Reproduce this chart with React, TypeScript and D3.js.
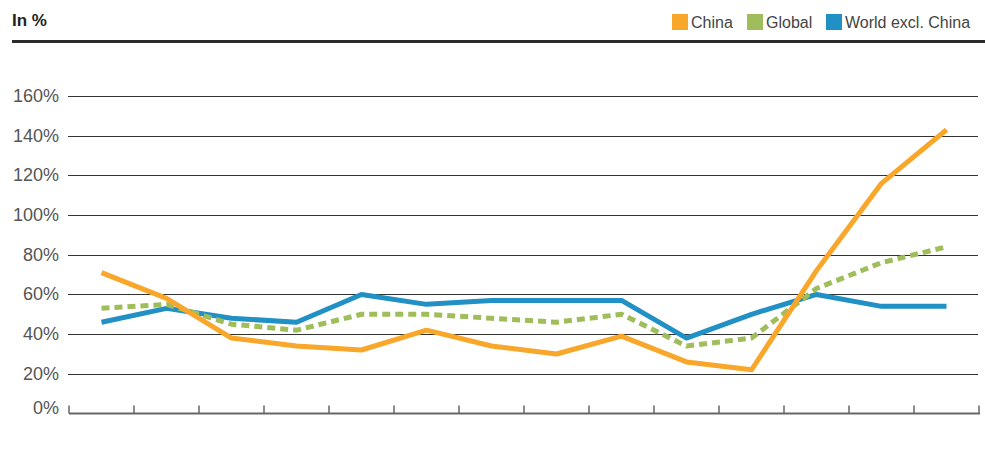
import React, { useRef, useEffect } from 'react';
import * as d3 from 'd3';

const years = ['1', '2', '3', '4', '5', '6', '7', '8', '9', '10', '11', '12', '13', '14'];
const china = [71, 58, 38, 34, 32, 42, 34, 30, 39, 26, 22, 72, 116, 143];
const global = [53, 55, 45, 42, 50, 50, 48, 46, 50, 34, 38, 63, 76, 84];
const worldExChina = [46, 53, 48, 46, 60, 55, 57, 57, 57, 38, 50, 60, 54, 54];
const yTicks = [0, 20, 40, 60, 80, 100, 120, 140, 160];

const legend = [
    { name: 'China', color: '#f9a72b' },
    { name: 'Global', color: '#9fbd5a' },
    { name: 'World excl. China', color: '#2190c4' },
];

const W = 985;
const H = 466;
const FONT = '"Liberation Sans", Arial, sans-serif';

export default function App() {
    const ref = useRef(null);

    useEffect(() => {
        if (!ref.current) return;
        const svg = d3.select(ref.current);
        svg.selectAll('*').remove();

        const x = d3.scaleBand().domain(years).range([69, 979]);
        const y = d3.scaleLinear().domain([0, 160]).range([413.5, 96]);

        /* header */
        svg.append('text')
            .attr('x', 12).attr('y', 26)
            .attr('font-family', FONT).attr('font-size', 17).attr('font-weight', 'bold')
            .attr('fill', '#222')
            .text('In %');
        svg.append('line')
            .attr('x1', 12).attr('x2', W).attr('y1', 41.5).attr('y2', 41.5)
            .attr('stroke', '#2b2b2b').attr('stroke-width', 3);

        /* legend */
        const lx = [672, 747, 826];
        legend.forEach((l, i) => {
            svg.append('rect')
                .attr('x', lx[i]).attr('y', 14).attr('width', 16).attr('height', 16)
                .attr('fill', l.color);
            svg.append('text')
                .attr('x', lx[i] + 19).attr('y', 28)
                .attr('font-family', FONT).attr('font-size', 16).attr('fill', '#444')
                .text(l.name);
        });

        /* grid + y labels */
        const grid = svg.append('g');
        yTicks.filter(t => t > 0).forEach(t => {
            grid.append('line')
                .attr('x1', 68).attr('x2', 978)
                .attr('y1', Math.round(y(t)) + 0.5).attr('y2', Math.round(y(t)) + 0.5)
                .attr('stroke', '#333').attr('stroke-width', 1);
        });
        yTicks.forEach(t => {
            grid.append('text')
                .attr('x', 59).attr('y', y(t) + (t === 0 ? 0 : 6))
                .attr('text-anchor', 'end')
                .attr('font-family', FONT).attr('font-size', 18).attr('fill', '#555')
                .text(t + '%');
        });

        /* x axis */
        const xAxis = svg.append('g').attr('transform', `translate(0, ${y(0)})`);
        xAxis.append('line')
            .attr('x1', 69).attr('x2', 980)
            .attr('stroke', '#666').attr('stroke-width', 2);
        const tickX = years.map(yr => x(yr) as number).concat([x.range()[1]]);
        tickX.forEach(tx => {
            xAxis.append('line')
                .attr('x1', tx).attr('x2', tx).attr('y1', 0).attr('y2', -8)
                .attr('stroke', '#666').attr('stroke-width', 1.5);
        });

        /* series */
        const line = d3.line<number>()
            .x((_, i) => (x(years[i]) as number) + x.bandwidth() / 2)
            .y(d => y(d));

        const series = [
            { data: worldExChina, color: '#2190c4', dash: null },
            { data: global, color: '#9fbd5a', dash: '8,5' },
            { data: china, color: '#f9a72b', dash: null },
        ];
        series.forEach(s => {
            svg.append('path')
                .datum(s.data)
                .attr('d', line)
                .attr('fill', 'none')
                .attr('stroke', s.color)
                .attr('stroke-width', 5)
                .attr('stroke-linejoin', 'round')
                .attr('stroke-dasharray', s.dash);
        });
    }, []);

    return (
        <svg
            ref={ref}
            width={W}
            height={H}
            style={{ position: 'absolute', left: 0, top: 0, background: '#fff' }}
        />
    );
}
